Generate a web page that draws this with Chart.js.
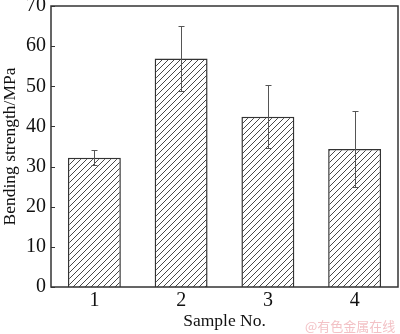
<!DOCTYPE html>
<html>
<head>
<meta charset="utf-8">
<script src="https://cdn.jsdelivr.net/npm/chart.js@4.4.1/dist/chart.umd.min.js"></script>
<style>
  html, body { margin: 0; padding: 0; background: #fff; }
  #wrap { position: relative; width: 400px; height: 334px; }
  #wm { position: absolute; left: 305px; top: 319px; font-family: "Noto Sans CJK SC", sans-serif; font-size: 13px; color: #f3c2c6; white-space: nowrap; line-height: 14px; }
</style>
</head>
<body>
<div id="wrap">
  <canvas id="c" width="400" height="334"></canvas>
  <div id="wm">@有色金属在线</div>
</div>
<script>
const categories = ['1', '2', '3', '4'];
const strengthValues = [32.2, 56.9, 42.4, 34.4];
const strengthErrors = [1.9, 8.0, 7.8, 9.5];
const yTicks = [0, 10, 20, 30, 40, 50, 60, 70];

function makeHatch() {
  const s = 6;
  const c = document.createElement('canvas');
  c.width = s; c.height = s;
  const g = c.getContext('2d');
  g.fillStyle = '#ffffff';
  g.fillRect(0, 0, s, s);
  g.strokeStyle = '#333';
  g.lineWidth = 0.9;
  g.beginPath();
  g.moveTo(-1, s + 1); g.lineTo(s + 1, -1);
  g.moveTo(-1, 1); g.lineTo(1, -1);
  g.moveTo(s - 1, s + 1); g.lineTo(s + 1, s - 1);
  g.stroke();
  return g.createPattern(c, 'repeat');
}

const serif = '"Liberation Serif", "Times New Roman", serif';

const framePlugin = {
  id: 'frame',
  afterDatasetsDraw(chart) {
    const ctx = chart.ctx;
    const a = chart.chartArea;
    const y = chart.scales.y;
    const x = chart.scales.x;
    ctx.save();
    ctx.strokeStyle = '#555';
    ctx.lineWidth = 1;
    strengthValues.forEach((v, i) => {
      const px = Math.round(x.getPixelForValue(i));
      const top = Math.round(y.getPixelForValue(v + strengthErrors[i]));
      const bot = Math.round(y.getPixelForValue(v - strengthErrors[i]));
      ctx.beginPath();
      ctx.moveTo(px + 0.5, top); ctx.lineTo(px + 0.5, bot);
      ctx.moveTo(px - 2.5, top + 0.5); ctx.lineTo(px + 3.5, top + 0.5);
      ctx.moveTo(px - 2.5, bot + 0.5); ctx.lineTo(px + 3.5, bot + 0.5);
      ctx.stroke();
    });
    ctx.strokeStyle = '#333';
    ctx.lineWidth = 1.5;
    ctx.strokeRect(a.left, a.top, a.right - a.left, a.bottom - a.top);
    ctx.lineWidth = 1;
    yTicks.forEach(t => {
      const py = Math.round(y.getPixelForValue(t)) + 0.5;
      ctx.beginPath();
      ctx.moveTo(a.left, py); ctx.lineTo(a.left + 4, py);
      ctx.stroke();
    });
    ctx.restore();
  }
};

new Chart(document.getElementById('c'), {
  type: 'bar',
  data: {
    labels: categories,
    datasets: [{
      data: strengthValues,
      backgroundColor: makeHatch(),
      borderColor: '#333',
      borderWidth: 1.5,
      barPercentage: 0.61,
      categoryPercentage: 1.0
    }]
  },
  options: {
    responsive: false,
    animation: false,
    devicePixelRatio: 1,
    layout: { padding: { top: 6, right: 2, left: 0, bottom: 0 } },
    plugins: { legend: { display: false }, tooltip: { enabled: false } },
    scales: {
      x: {
        grid: { display: false, drawTicks: false },
        border: { display: false },
        ticks: { color: '#111', font: { family: serif, size: 20 }, padding: 2 },
        title: { display: true, text: 'Sample No.', color: '#111', font: { family: serif, size: 17.5 }, padding: { top: 0, bottom: 2 } },
        afterFit(s) { s.height = 47; s.paddingLeft = 0; s.paddingRight = 0; }
      },
      y: {
        min: 0, max: 70,
        afterBuildTicks(s) { s.ticks = yTicks.map(v => ({ value: v })); },
        grid: { display: false, drawTicks: false },
        border: { display: false },
        ticks: { color: '#111', font: { family: serif, size: 20 }, padding: 5 },
        title: { display: true, text: 'Bending strength/MPa', color: '#111', font: { family: serif, size: 17.5 }, padding: { top: 0, bottom: 1 } },
        afterFit(s) { s.width = 51; s.paddingTop = 0; s.paddingBottom = 0; }
      }
    }
  },
  plugins: [framePlugin]
});
</script>
</body>
</html>
